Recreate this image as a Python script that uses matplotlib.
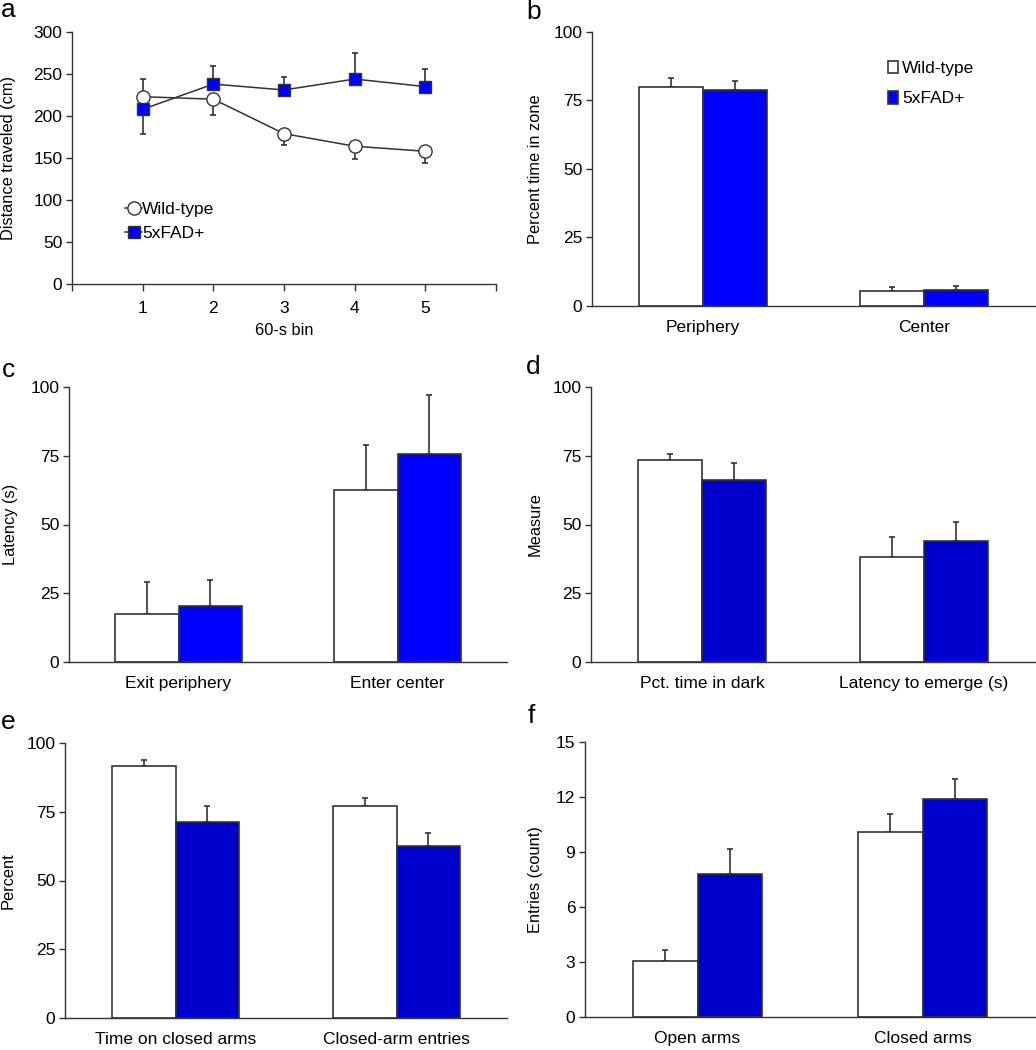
import matplotlib
matplotlib.use("Agg")
import matplotlib.pyplot as plt
from matplotlib.patches import Patch
import numpy as np

plt.rcParams['font.family'] = ['Liberation Sans', 'DejaVu Sans']

# ---------------- data ----------------
# panel a
bins = [1, 2, 3, 4, 5]
wt_dist = [223, 220, 179, 164, 158]
wt_dist_err_lo = [0, 19, 14, 15, 14]
wt_dist_err_hi = [21, 0, 0, 0, 0]
fad_dist = [208, 238, 231, 244, 235]
fad_dist_err_lo = [30, 0, 0, 0, 0]
fad_dist_err_hi = [0, 22, 16, 31, 21]

# panel b
b_cats = ["Periphery", "Center"]
b_wt = [79.8, 5.6]
b_wt_err = [3.4, 1.4]
b_fad = [79.0, 6.0]
b_fad_err = [3.2, 1.4]

# panel c
c_cats = ["Exit periphery", "Enter center"]
c_wt = [17.6, 62.7]
c_wt_err = [11.4, 16.3]
c_fad = [20.2, 75.7]
c_fad_err = [9.8, 21.3]

# panel d
d_cats = ["Pct. time in dark", "Latency to emerge (s)"]
d_wt = [73.5, 38.3]
d_wt_err = [2.2, 7.1]
d_fad = [66.3, 43.9]
d_fad_err = [6.2, 6.9]

# panel e
e_cats = ["Time on closed arms", "Closed-arm entries"]
e_wt = [91.6, 77.0]
e_wt_err = [2.1, 3.1]
e_fad = [71.4, 62.7]
e_fad_err = [5.8, 4.4]

# panel f
f_cats = ["Open arms", "Closed arms"]
f_wt = [3.06, 10.1]
f_wt_err = [0.6, 0.97]
f_fad = [7.8, 11.9]
f_fad_err = [1.37, 1.08]

# ---------------- layout ----------------
W, H = 1036, 1050
fig = plt.figure(figsize=(W / 100, H / 100), dpi=100)

def add_ax(l, t, r, b):
    return fig.add_axes([l / W, 1 - b / H, (r - l) / W, (b - t) / H])

EDGE = '#333333'
BLUE1 = '#0000FF'
BLUE2 = '#0000CC'
TICKFS = 12.5
CATFS = 12.5
YLABFS = 11.8
LEGFS = 12.5

def style(ax):
    for s in ['top', 'right']:
        ax.spines[s].set_visible(False)
    for s in ['left', 'bottom']:
        ax.spines[s].set_color(EDGE)
        ax.spines[s].set_linewidth(1.0)
    ax.tick_params(axis='y', direction='out', length=4, width=1.0, color=EDGE,
                   labelsize=TICKFS, pad=3)
    ax.set_facecolor('none')

def bar_panel(ax, cats, wt, wte, fad, fade, blue, ylim, yticks, ylabel, labx):
    style(ax)
    x = np.arange(len(cats))
    w = 0.288
    ax.bar(x - w / 2, wt, w, color='white', edgecolor=EDGE, linewidth=1.2, zorder=2)
    ax.bar(x + w / 2, fad, w, color=blue, edgecolor=EDGE, linewidth=1.2, zorder=2)
    ax.errorbar(x - w / 2, wt, yerr=[np.zeros(len(wt)), wte], fmt='none',
                ecolor=EDGE, elinewidth=1.2, capsize=2.5, capthick=1.2, zorder=1)
    ax.errorbar(x + w / 2, fad, yerr=[np.zeros(len(fad)), fade], fmt='none',
                ecolor=EDGE, elinewidth=1.2, capsize=2.5, capthick=1.2, zorder=1)
    ax.set_xlim(-0.5, 1.5)
    ax.set_ylim(*ylim)
    ax.set_yticks(yticks)
    ax.set_xticks(x)
    ax.set_xticklabels(cats, fontsize=CATFS)
    ax.tick_params(axis='x', length=0, pad=10)
    ax.set_ylabel(ylabel, fontsize=YLABFS)
    ax.yaxis.set_label_coords(labx, 0.5)

# ---- panel a ----
axa = add_ax(72, 32, 496, 284)
style(axa)
axa.errorbar(bins, wt_dist, yerr=[wt_dist_err_lo, wt_dist_err_hi], fmt='none',
             ecolor=EDGE, elinewidth=1.2, capsize=2.5, capthick=1.2, zorder=1)
axa.errorbar(bins, fad_dist, yerr=[fad_dist_err_lo, fad_dist_err_hi], fmt='none',
             ecolor=EDGE, elinewidth=1.2, capsize=2.5, capthick=1.2, zorder=1)
axa.plot(bins, wt_dist, '-', color=EDGE, lw=1.1, marker='o', ms=9.5,
         mfc='white', mec=EDGE, mew=1.0, zorder=3, label='Wild-type')
axa.plot(bins, fad_dist, '-', color=EDGE, lw=1.1, marker='s', ms=9,
         mfc=BLUE1, mec=EDGE, mew=1.0, zorder=3, label='5xFAD+')
axa.set_xlim(0, 6)
axa.set_ylim(0, 300)
axa.set_yticks([0, 50, 100, 150, 200, 250, 300])
axa.set_xticks([0, 1, 2, 3, 4, 5, 6])
axa.set_xticklabels(['', '1', '2', '3', '4', '5', ''])
axa.tick_params(axis='x', direction='out', length=5, width=1.0, color=EDGE,
                labelsize=TICKFS, pad=7)
axa.set_xlabel('60-s bin', fontsize=YLABFS, labelpad=5)
axa.set_ylabel('Distance traveled (cm)', fontsize=YLABFS)
axa.yaxis.set_label_coords(-0.132, 0.5)
axa.legend(loc='upper left', bbox_to_anchor=(0.125, 0.325), frameon=False,
           fontsize=LEGFS, handlelength=1.0, handletextpad=0.0,
           labelspacing=0.5, borderpad=0, borderaxespad=0)

# ---- panel b ----
axb = add_ax(592, 32, 1035, 306)
bar_panel(axb, b_cats, b_wt, b_wt_err, b_fad, b_fad_err, BLUE1,
          (0, 100), [0, 25, 50, 75, 100], 'Percent time in zone', -0.111)
handles = [Patch(facecolor='white', edgecolor=EDGE, linewidth=1.2),
           Patch(facecolor=BLUE1, edgecolor=EDGE, linewidth=1.2)]
axb.legend(handles, ['Wild-type', '5xFAD+'], loc='upper left',
           bbox_to_anchor=(0.668, 0.895), frameon=False, fontsize=LEGFS,
           handlelength=0.6, handleheight=0.75, handletextpad=0.2,
           labelspacing=0.85, borderpad=0, borderaxespad=0)

# ---- panel c ----
axc = add_ax(69, 387, 507, 662)
bar_panel(axc, c_cats, c_wt, c_wt_err, c_fad, c_fad_err, BLUE1,
          (0, 100), [0, 25, 50, 75, 100], 'Latency (s)', -0.116)

# ---- panel d ----
axd = add_ax(591, 387, 1035, 662)
bar_panel(axd, d_cats, d_wt, d_wt_err, d_fad, d_fad_err, BLUE2,
          (0, 100), [0, 25, 50, 75, 100], 'Measure', -0.108)

# ---- panel e ----
axe = add_ax(65, 743, 507, 1018)
bar_panel(axe, e_cats, e_wt, e_wt_err, e_fad, e_fad_err, BLUE2,
          (0, 100), [0, 25, 50, 75, 100], 'Percent', -0.111)

# ---- panel f ----
axf = add_ax(585, 742, 1035, 1017)
bar_panel(axf, f_cats, f_wt, f_wt_err, f_fad, f_fad_err, BLUE2,
          (0, 15), [0, 3, 6, 9, 12, 15], 'Entries (count)', -0.093)

# panel letters
for letter, px, py in [('a', 1, -2), ('b', 526, 0), ('c', 2, 358),
                       ('d', 526, 355), ('e', 1, 710), ('f', 528, 704)]:
    fig.text(px / W, 1 - py / H, letter, fontsize=19, ha='left', va='top')

fig.savefig('out.png', dpi=100, facecolor='white')
